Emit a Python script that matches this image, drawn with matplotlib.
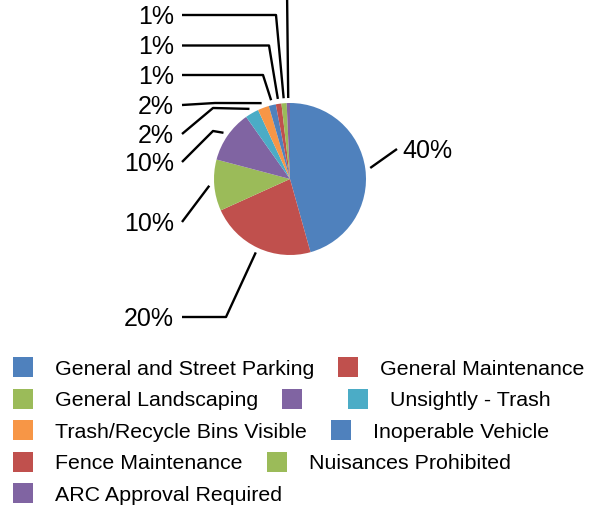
#!/usr/bin/env python
"""Pie chart of violation categories with Excel-style leader labels."""

import matplotlib

matplotlib.use("Agg")
import matplotlib.pyplot as plt
from matplotlib.patches import Rectangle
import numpy as np

# share of each category, in drawing order
categories = [
    "General and Street Parking",
    "General Maintenance",
    "General Landscaping",
    "",
    "Unsightly - Trash",
    "Trash/Recycle Bins Visible",
    "Inoperable Vehicle",
    "Fence Maintenance",
    "Nuisances Prohibited",
    "ARC Approval Required",
]
shares = [45.7, 22.6, 10.9, 11.1, 2.9, 2.4, 1.5, 1.2, 1.1, 0.7]
pct_labels = ["40%", "20%", "10%", "10%", "2%", "2%", "1%", "1%", "1%", "1%"]

palette = ["#4F81BD", "#C0504D", "#9BBB59", "#8064A2", "#4BACC6", "#F79646"]
colors = [palette[i % len(palette)] for i in range(len(shares))]

W, H = 596, 510
CENTER = (290.0, 180.0)
RADIUS = 76.0

# leader line layout (pixel units): optional elbow, end point, text side
leader_layout = [
    (None, (397, 150), "left"),
    ((226, 318), (182, 318), "right"),
    (None, (182, 223), "right"),
    ((213, 132), (182, 163), "right"),
    ((213, 109), (182, 135), "right"),
    ((215, 104), (182, 106), "right"),
    ((263, 76), (182, 76), "right"),
    ((269, 46.5), (182, 46.5), "right"),
    ((276, 16), (182, 16), "right"),
    (None, (287, -10), None),
]

legend_rows = [[0, 1], [2, 3, 4], [5, 6], [7, 8], [9]]

plt.rcParams["font.family"] = ["Liberation Sans", "DejaVu Sans"]

fig = plt.figure(figsize=(W / 100, H / 100), dpi=100)
ax = fig.add_axes([0, 0, 1, 1])

# y axis runs downward, so start at -90 and go counterclockwise in data space
wedges, _ = ax.pie(
    shares,
    colors=colors,
    startangle=-90,
    counterclock=True,
    center=CENTER,
    radius=RADIUS,
    wedgeprops={"linewidth": 0},
)
ax.set_xlim(0, W)
ax.set_ylim(H, 0)
ax.set_aspect("equal")
ax.set_axis_off()

for wedge, label, (elbow, end, side) in zip(wedges, pct_labels, leader_layout):
    mid = np.deg2rad((wedge.theta1 + wedge.theta2) / 2.0)
    start = (CENTER[0] + (RADIUS + 5) * np.cos(mid), CENTER[1] + (RADIUS + 5) * np.sin(mid))
    pts = [start] + ([elbow] if elbow is not None else []) + [end]
    xs, ys = zip(*pts)
    ax.plot(xs, ys, color="black", linewidth=1.7, solid_capstyle="butt", clip_on=False)
    if side == "left":
        ax.text(end[0] + 5, end[1] + 1, label, ha="left", va="center", fontsize=18)
    elif side == "right":
        ax.text(end[0] - 8, end[1] + 1, label, ha="right", va="center", fontsize=18)

# flowing legend like the spreadsheet original
fig.canvas.draw()
renderer = fig.canvas.get_renderer()
row_y = 368.0
for row in legend_rows:
    x = 13.0
    for idx in row:
        ax.add_patch(Rectangle((x, row_y - 10), 20, 20, facecolor=colors[idx], edgecolor="none"))
        width = 0.0
        if categories[idx]:
            t = ax.text(x + 42, row_y + 1.5, categories[idx], ha="left", va="center", fontsize=15.4)
            width = t.get_window_extent(renderer).width
        x = x + 42 + width + 24
    row_y += 31.5

fig.savefig("out.png", dpi=100)
